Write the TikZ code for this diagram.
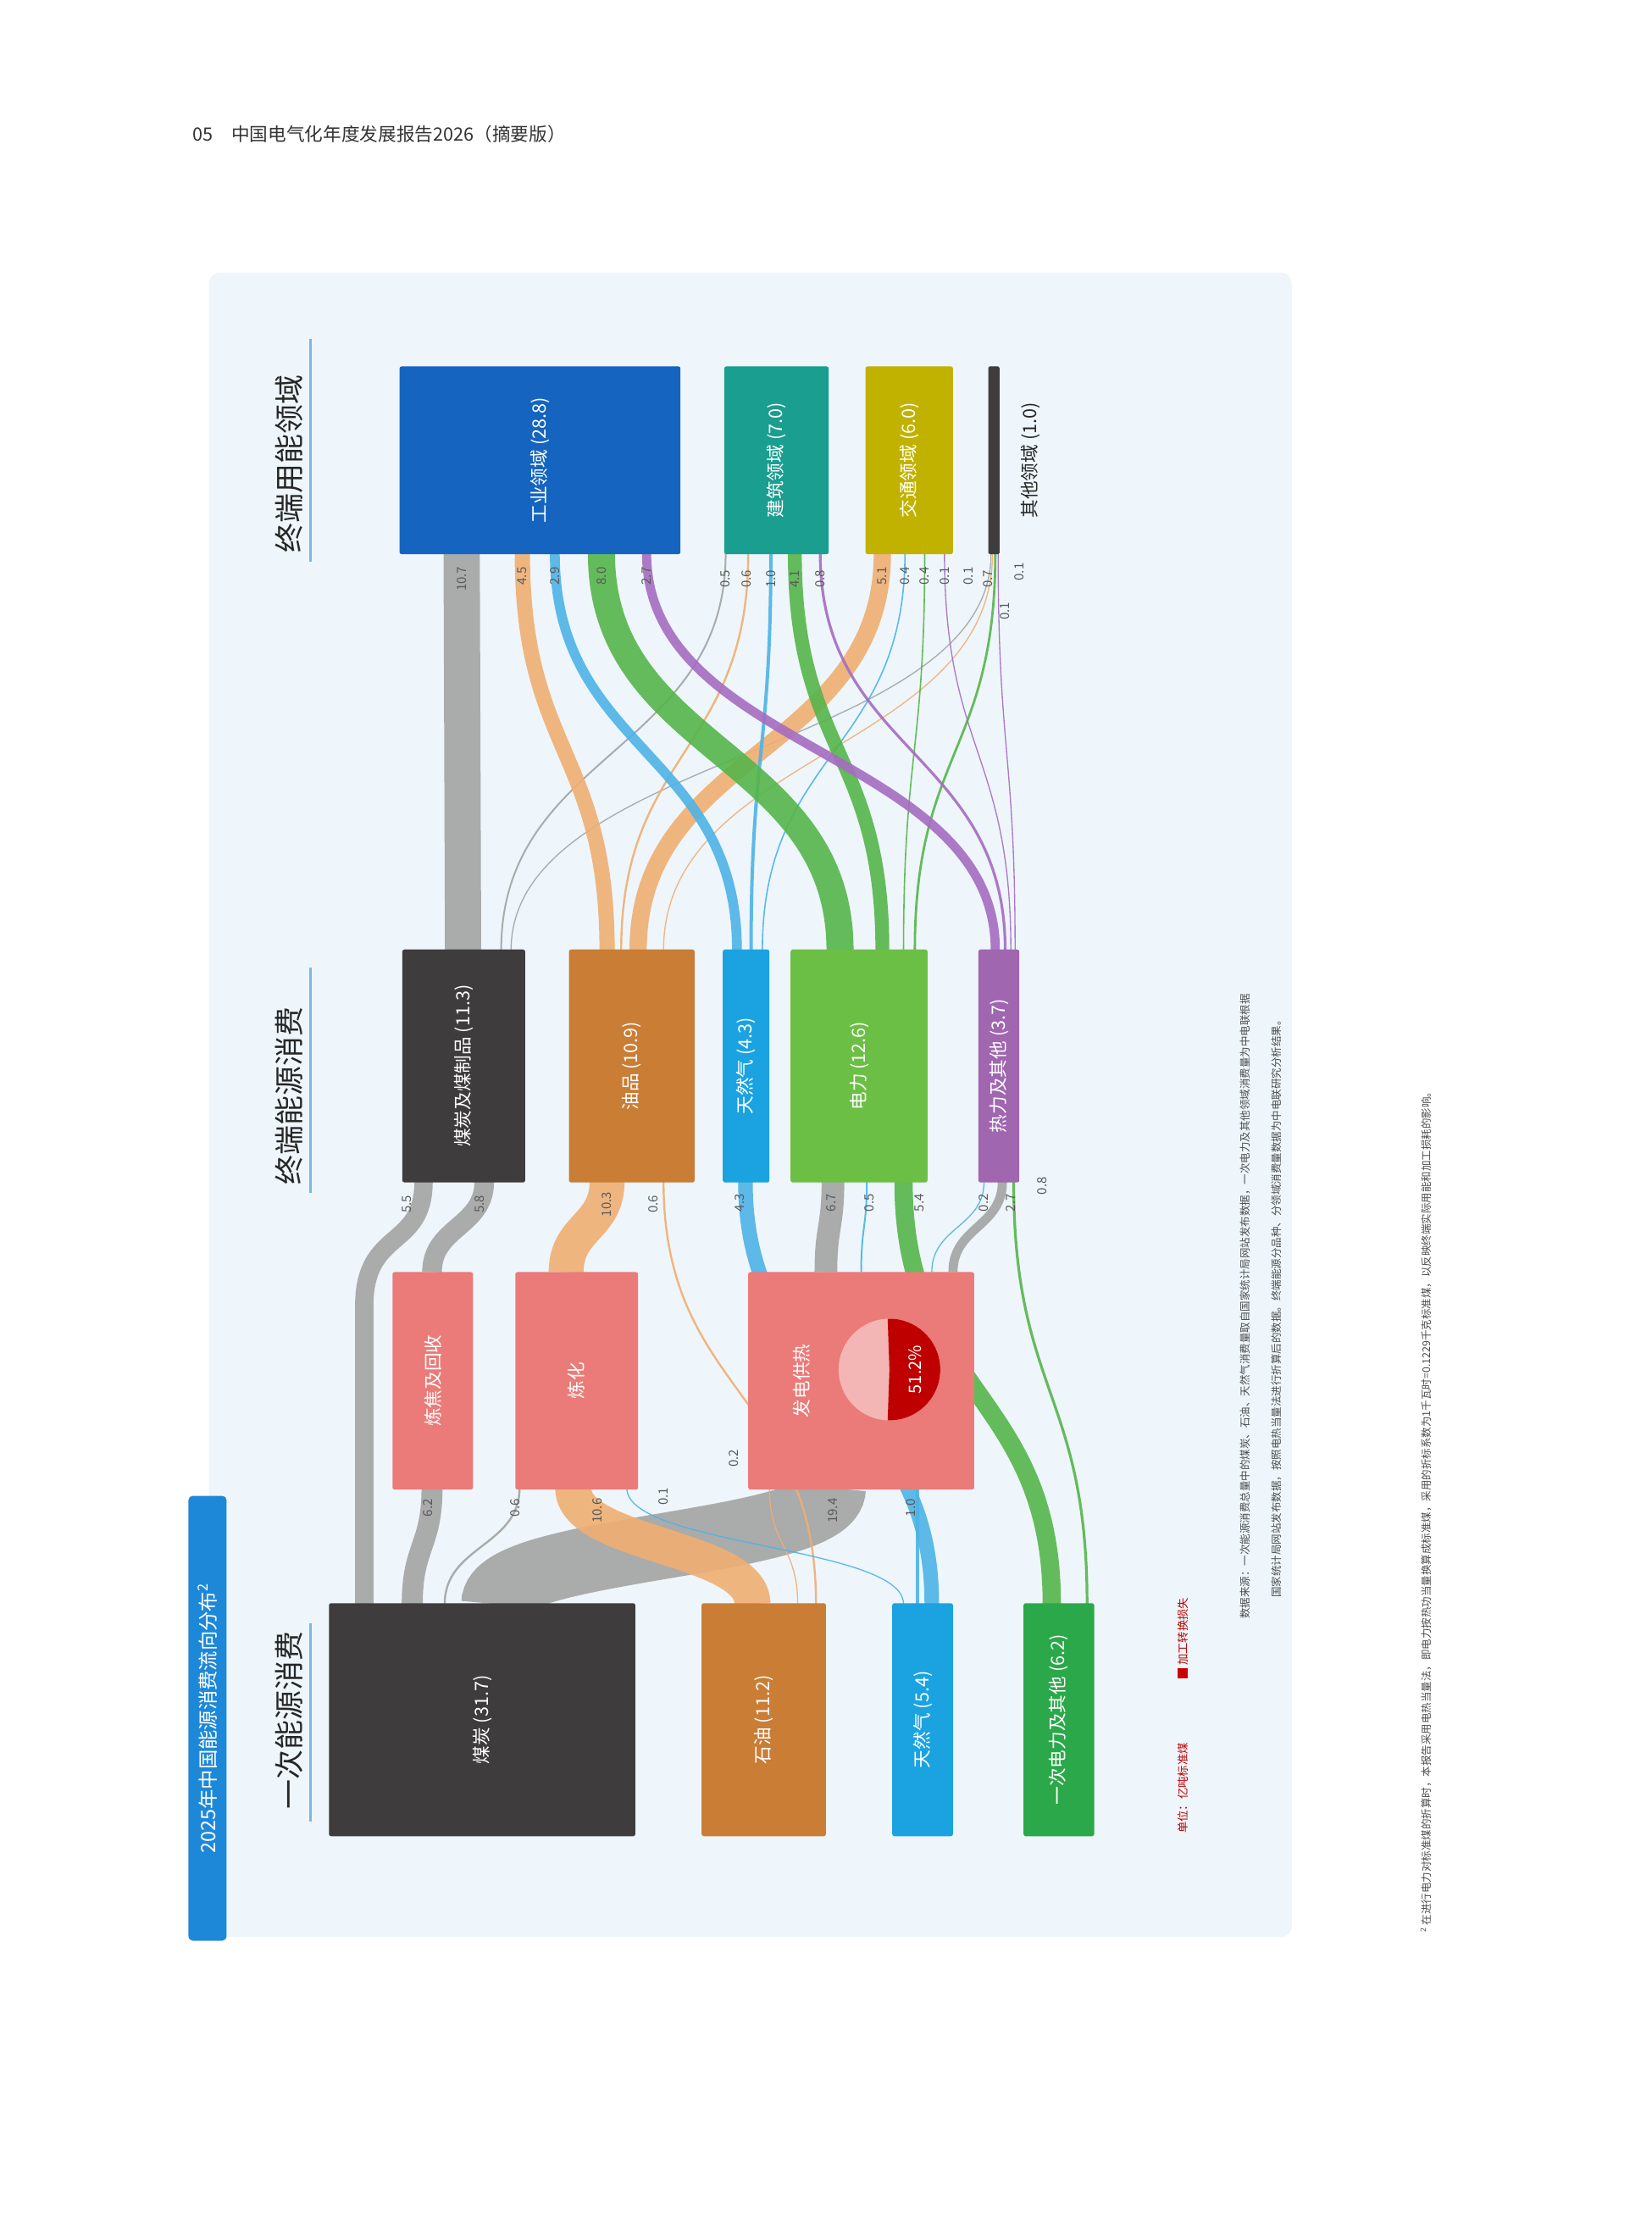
\documentclass[tikz,border=0pt]{standalone}
\usepackage{fontspec}
\setmainfont{Noto Sans CJK SC}
\begin{document}
\definecolor{coal}{HTML}{3E3C3D}
\definecolor{oil}{HTML}{C97D35}
\definecolor{gas}{HTML}{1AA3E0}
\definecolor{pel}{HTML}{2BA84A}
\definecolor{conv}{HTML}{EA7B78}
\definecolor{ele}{HTML}{6CBF45}
\definecolor{heat}{HTML}{A066B0}
\definecolor{ind}{HTML}{1565C0}
\definecolor{bld}{HTML}{1A9E8F}
\definecolor{tra}{HTML}{C2B200}
\definecolor{fcoal}{HTML}{A3A3A3}
\definecolor{foil}{HTML}{F0AE72}
\definecolor{fgas}{HTML}{4DB3E6}
\definecolor{fele}{HTML}{55B54A}
\definecolor{fheat}{HTML}{A56CC1}
\definecolor{tab}{HTML}{1E88D8}
\definecolor{panel}{HTML}{EEF6FB}
\begin{tikzpicture}[x=1pt,y=-1pt,
  box/.style={draw=none,inner sep=0pt,rounded corners=1.5pt},
  lab/.style={rotate=90,text=white,font=\fontsize{13}{15}\selectfont},
  num/.style={rotate=90,text=black!65,font=\fontsize{9}{10}\selectfont,inner sep=1pt},
  head/.style={rotate=90,anchor=west,font=\fontsize{21}{24}\selectfont,text=black!85},
  flow/.style={opacity=0.9}]
\useasboundingbox (0,0) rectangle (1170,1583);
\fill[white] (0,0) rectangle (1170,1583);
\node[anchor=west,font=\fontsize{13}{15}\selectfont,text=black!80] (hdr) at (133,95) {05\quad 中国电气化年度发展报告2026（摘要版）};
\fill[panel,rounded corners=8pt] (148,193) rectangle (915,1372);
% title tab
\node[box,fill=tab,minimum width=27pt,minimum height=315pt,rounded corners=3pt] (tab) at (147,1217) {};
\node[rotate=90,text=white,font=\fontsize{14}{16}\selectfont] (tabt) at (147,1217) {2025年中国能源消费流向分布\textsuperscript{2}};
% headers
\node[head] (h1) at (205,1285) {一次能源消费};
\node[head] (h2) at (205,843) {终端能源消费};
\node[head] (h3) at (205,395) {终端用能领域};
\draw[tab!60,line width=1.5pt] (220,1290) -- (220,1150);
\draw[tab!60,line width=1.5pt] (220,845) -- (220,685);
\draw[tab!60,line width=1.5pt] (220,398) -- (220,240);
\newcommand\fl[6]{\draw[#1,flow,line width={max(#6*2.4,0.8)*1pt}] (#2,#3) .. controls (#2,{(#3+#5)/2}) and (#4,{(#3+#5)/2}) .. (#4,#5);}
% primary -> conversion / terminal
\draw[fcoal,flow,line width=13pt] (258,1136) -- (258,925) .. controls (258,870) and (300,885) .. (300,837);
\fl{fcoal}{292}{1136}{306}{1054}{6.2}
\fl{fcoal}{315}{1136}{368}{1054}{0.6}
\fl{fcoal}{350}{1136}{590}{1054}{19.4}
\fl{foil}{533}{1136}{406}{1054}{10.6}
\fl{foil}{565}{1136}{545}{1054}{0.1}
\fl{foil}{578}{1136}{470}{837}{0.6}
\fl{fgas}{640}{1136}{444}{1054}{0.2}
\fl{fgas}{650}{1136}{650}{1054}{1.0}
\fl{fgas}{660}{1136}{528}{837}{4.3}
\fl{fele}{745}{1136}{640}{837}{5.4}
\fl{fele}{770}{1136}{718}{837}{0.8}
% conversion -> terminal
\fl{fcoal}{306}{901}{343}{837}{5.8}
\fl{foil}{401}{901}{430}{837}{10.3}
\fl{fcoal}{585}{901}{590}{837}{6.7}
\fl{fgas}{610}{901}{614}{837}{0.5}
\fl{fgas}{660}{901}{697}{837}{0.2}
\fl{fcoal}{675}{901}{710}{837}{2.7}
% terminal -> end use
\fl{fcoal}{328}{673}{327}{392}{10.7}
\fl{fcoal}{355}{673}{514}{392}{0.5}
\fl{fcoal}{362}{673}{702}{392}{0.1}
\fl{foil}{430}{673}{370}{392}{4.5}
\fl{foil}{440}{673}{530}{392}{0.6}
\fl{foil}{452}{673}{625}{392}{5.1}
\fl{foil}{470}{673}{703}{392}{0.1}
\fl{fgas}{522}{673}{393}{392}{2.9}
\fl{fgas}{532}{673}{546}{392}{1.0}
\fl{fgas}{540}{673}{641}{392}{0.4}
\fl{fele}{595}{673}{426}{392}{8.0}
\fl{fele}{625}{673}{563}{392}{4.1}
\fl{fele}{640}{673}{655}{392}{0.4}
\fl{fele}{648}{673}{705}{392}{0.7}
\fl{fheat}{705}{673}{458}{392}{2.7}
\fl{fheat}{712}{673}{581}{392}{0.8}
\fl{fheat}{716}{673}{669}{392}{0.1}
\fl{fheat}{719}{673}{707}{392}{0.1}
% nodes: primary
\node[box,fill=coal,minimum width=217pt,minimum height=165pt] (coal) at (341.5,1218) {};
\node[lab] at (coal) {煤炭 (31.7)};
\node[box,fill=oil,minimum width=88pt,minimum height=165pt] (oil) at (541,1218) {};
\node[lab] at (oil) {石油 (11.2)};
\node[box,fill=gas,minimum width=43pt,minimum height=165pt] (gas) at (653.5,1218) {};
\node[lab] at (gas) {天然气 (5.4)};
\node[box,fill=pel,minimum width=50pt,minimum height=165pt] (pel) at (750,1218) {};
\node[lab] at (pel) {一次电力及其他 (6.2)};
% conversion
\node[box,fill=conv,minimum width=57pt,minimum height=154pt] (coke) at (306.5,978) {};
\node[lab] at (coke) {炼焦及回收};
\node[box,fill=conv,minimum width=87pt,minimum height=154pt] (ref) at (408.5,978) {};
\node[lab] at (ref) {炼化};
\node[box,fill=conv,minimum width=160pt,minimum height=154pt] (pow) at (610,978) {};
\node[lab] at (568,978) {发电供热};
\fill[conv!55!white] (630,970) circle (36);
\fill[red!75!black] (630,970) -- ++(-92:36) arc[start angle=-92,end angle=92,radius=36] -- cycle;
\node[lab,font=\fontsize{12}{14}\selectfont] (pct) at (648,970) {51.2\%};
% terminal
\node[box,fill=coal,minimum width=87pt,minimum height=165pt] (tcoal) at (328.5,755) {};
\node[lab] at (tcoal) {煤炭及煤制品 (11.3)};
\node[box,fill=oil,minimum width=89pt,minimum height=165pt] (toil) at (447.5,755) {};
\node[lab] at (toil) {油品 (10.9)};
\node[box,fill=gas,minimum width=33pt,minimum height=165pt] (tgas) at (528.5,755) {};
\node[lab] at (tgas) {天然气 (4.3)};
\node[box,fill=ele,minimum width=97pt,minimum height=165pt] (tele) at (608.5,755) {};
\node[lab] at (tele) {电力 (12.6)};
\node[box,fill=heat,minimum width=29pt,minimum height=165pt] (theat) at (707.5,755) {};
\node[lab] at (theat) {热力及其他 (3.7)};
% end use
\node[box,fill=ind,minimum width=199pt,minimum height=133pt] (ind) at (382.5,326) {};
\node[lab] at (ind) {工业领域 (28.8)};
\node[box,fill=bld,minimum width=74pt,minimum height=133pt] (bld) at (550,326) {};
\node[lab] at (bld) {建筑领域 (7.0)};
\node[box,fill=tra,minimum width=62pt,minimum height=133pt] (tra) at (644,326) {};
\node[lab] at (tra) {交通领域 (6.0)};
\node[box,fill=coal,minimum width=8pt,minimum height=133pt,rounded corners=1pt] (oth) at (704,326) {};
\node[rotate=90,font=\fontsize{13}{15}\selectfont,text=black!85] (otht) at (730,326) {其他领域 (1.0)};
% numbers
\foreach \v/\x/\y in {6.2/303/1068,0.6/365/1068,10.6/423/1070,0.1/470/1060,0.2/520/1033,19.4/590/1070,1.0/645/1068,
 5.5/288/853,5.8/340/853,10.3/430/853,0.6/463/853,4.3/524/852,6.7/589/852,0.5/616/852,5.4/651/852,0.2/697/852,2.7/716/852,0.8/738/840,
 10.7/327/410,4.5/370/408,2.9/393/408,8.0/426/408,2.7/458/408,0.5/514/410,0.6/529/410,1.0/546/410,4.1/563/410,0.8/581/410,
 5.1/625/408,0.4/641/408,0.4/655/408,0.1/669/408,0.1/686/408,0.7/700/410,0.1/712/433,0.1/722/405}
 \node[num] at (\x,\y) {\v};
% legend and notes
\node[rotate=90,anchor=west,text=red!75!black,font=\fontsize{8}{9}\selectfont] (unit) at (838,1302) {单位：亿吨标准煤};
\node[rotate=90,anchor=west,text=red!75!black,font=\fontsize{8}{9}\selectfont] (loss) at (838,1192) {\textcolor{red!80!black}{\rule{7pt}{7pt}}\ 加工转换损失};
\node[rotate=90,anchor=west,text=black!70,font=\fontsize{7.5}{9}\selectfont] (n1) at (882,1150) {数据来源：一次能源消费总量中的煤炭、石油、天然气消费量取自国家统计局网站发布数据，一次电力及其他领域消费量为中电联根据};
\node[rotate=90,anchor=west,text=black!70,font=\fontsize{7.5}{9}\selectfont] (n2) at (904,1135) {国家统计局网站发布数据，按照电热当量法进行折算后的数据。终端能源分品种、分领域消费量数据为中电联研究分析结果。};
\node[rotate=90,anchor=west,text=black!70,font=\fontsize{7.5}{9}\selectfont] (fn) at (1010,1372) {\textsuperscript{2} 在进行电力对标准煤的折算时，本报告采用电热当量法，即电力按热功当量换算成标准煤，采用的折标系数为1千瓦时=0.1229千克标准煤，以反映终端实际用能和加工损耗的影响。};
\end{tikzpicture}
\end{document}
